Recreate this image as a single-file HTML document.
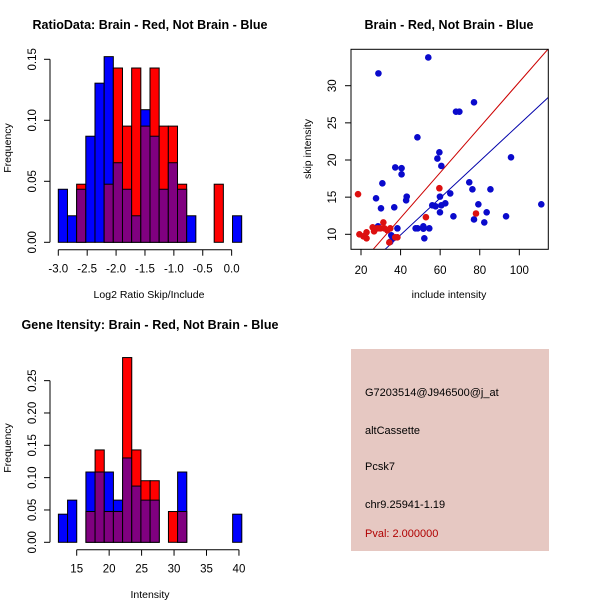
<!DOCTYPE html>
<html><head><meta charset="utf-8"><style>
html,body{margin:0;padding:0;background:#fff}
svg{display:block;font-family:"Liberation Sans",sans-serif}
</style></head><body>
<svg id="s" width="600" height="600" viewBox="0 0 600 600">
<rect x="351" y="349" width="198" height="202" fill="#e6c8c2"/>
<text x="365" y="396" font-size="11">G7203514@J946500@j_at</text>
<text x="365" y="434" font-size="11">altCassette</text>
<text x="365" y="470" font-size="11">Pcsk7</text>
<text x="365" y="508" font-size="11">chr9.25941-1.19</text>
<text x="365" y="537" font-size="11" fill="#b00000">Pval: 2.000000</text>
</svg>
<script>
// Top-left histogram data (counts per bin; 20 bins)
const ratioBlueCounts=[2,1,2,4,6,7,3,2,1,5,4,2,3,2,1,0,0,0,0,1];
const ratioRedCounts=[0,0,1,0,0,1,3,2,3,2,3,2,2,1,0,0,0,1,0,0];
const ratioXTicks=[-3.0,-2.5,-2.0,-1.5,-1.0,-0.5,0.0];
const ratioXTickLabels=["-3.0","-2.5","-2.0","-1.5","-1.0","-0.5","0.0"];
const ratioYTicks=[0,0.05,0.10,0.15];
const ratioYTickLabels=["0.00","0.05","0.10","0.15"];
// Bottom-left histogram data
const geneBlueCounts=[2,3,0,5,5,5,3,6,4,3,3,0,0,5,0,0,0,0,0,2];
const geneRedCounts=[0,0,0,1,3,1,1,6,3,2,2,0,1,1,0,0,0,0,0,0];
const geneXTicks=[15,20,25,30,35,40];
const geneYTicks=[0,0.05,0.10,0.15,0.20,0.25];
const geneYTickLabels=["0.00","0.05","0.10","0.15","0.20","0.25"];
// Scatter data
const blueX=[28.8,54.0,77.1,68.0,69.7,48.5,59.6,58.6,95.8,37.3,40.5,40.5,60.6,30.8,74.7,76.3,85.4,43.1,42.8,27.6,59.9,65.1,30.1,36.8,56.0,57.7,60.6,62.6,79.3,111.1,59.9,83.5,66.7,93.3,77.1,82.3,28.6,38.4,47.6,48.6,51.5,51.5,54.5,52.0,35.3,36.2,34.8];
const blueY=[31.66,33.8,27.76,26.5,26.5,23.05,21.03,20.2,20.36,19.0,18.9,18.07,19.2,16.86,17.0,16.05,16.05,15.07,14.57,14.84,15.07,15.5,13.5,13.63,13.9,13.77,13.9,14.17,14.04,14.04,12.96,12.96,12.42,12.42,12.0,11.6,11.08,10.8,10.8,10.8,11.08,10.76,10.8,9.46,9.87,9.46,9.0];
const redX=[18.5,59.6,78.1,52.8,31.3,19.2,21.2,22.8,22.8,25.9,26.6,29.8,31.8,33.3,34.8,37.3,38.4,28.3,34.3];
const redY=[15.4,16.2,12.8,12.3,11.6,10.0,9.73,10.27,9.46,10.94,10.4,10.8,10.8,10.54,10.8,9.6,9.6,10.8,8.9];
const redSlope=0.305, blueSlope=0.248;
const scXTicks=[20,40,60,80,100];
const scYTicks=[10,15,20,25,30];

const svg=document.getElementById('s');
const NS='http://www.w3.org/2000/svg';
function mk(tag,attrs,parent){const e=document.createElementNS(NS,tag);for(const k in attrs)e.setAttribute(k,attrs[k]);(parent||svg).appendChild(e);return e;}
function txt(s,attrs){const e=mk('text',attrs);e.textContent=s;return e;}

function hist(blue,red,x0,binW,sx,sy,name){
  const nb=blue.reduce((a,b)=>a+b,0), nr=red.reduce((a,b)=>a+b,0);
  for(let i=0;i<blue.length;i++){
    const fb=blue[i]/nb, fr=red[i]/nr;
    const xa=sx(x0+i*binW), xb=sx(x0+(i+1)*binW);
    const hi=Math.max(fb,fr), lo=Math.min(fb,fr);
    if(hi>0){
      const r=mk('rect',{x:xa,y:sy(hi),width:xb-xa,height:sy(0)-sy(hi),fill:fb>=fr?'#0000ff':'#ff0000',stroke:'#000','stroke-width':1});
      
      
    }
    if(lo>0){
      const r=mk('rect',{x:xa,y:sy(lo),width:xb-xa,height:sy(0)-sy(lo),fill:'#800080',stroke:'#000','stroke-width':1});
      
      
    }
  }
}
function axes(xt,xl,yt,yl,sx,sy,xAxisY,yAxisX,name){
  const g=mk('g',{stroke:'#000','stroke-width':1,fill:'none'});
  
  
  mk('line',{x1:sx(xt[0]),x2:sx(xt[xt.length-1]),y1:xAxisY,y2:xAxisY},g);
  xt.forEach((v,i)=>{mk('line',{x1:sx(v),x2:sx(v),y1:xAxisY,y2:xAxisY+6},g);
    const t=txt(xl[i],{x:sx(v),y:xAxisY+23,'font-size':11.5,'text-anchor':'middle'});
    
    });
  mk('line',{y1:sy(yt[0]),y2:sy(yt[yt.length-1]),x1:yAxisX,x2:yAxisX},g);
  yt.forEach((v,i)=>{mk('line',{y1:sy(v),y2:sy(v),x1:yAxisX,x2:yAxisX-6},g);
    const t=txt(yl[i],{x:0,y:0,'font-size':11.5,'text-anchor':'middle',transform:`translate(${yAxisX-14},${sy(v)}) rotate(-90)`});
    
    });
}

// Top-left
{
  const sx=v=>58.3+(v+3)*57.78, sy=v=>242.3-v*1220;
  hist(ratioBlueCounts,ratioRedCounts,-3.0,0.1587,sx,sy,'ratio');
  axes(ratioXTicks,ratioXTickLabels,ratioYTicks,ratioYTickLabels,sx,sy,249.7,50,'ratio');
  let t=txt('RatioData: Brain - Red, Not Brain - Blue',{x:150,y:29,'font-size':12.5,'font-weight':'bold','text-anchor':'middle',textLength:235});
  
  t=txt('Log2 Ratio Skip/Include',{x:149,y:298,'font-size':10.5,'text-anchor':'middle'});
  
  t=txt('Frequency',{x:0,y:0,'font-size':10.5,'text-anchor':'middle',transform:'translate(11,148) rotate(-90)'});
  
}
// Bottom-left
{
  const sx=v=>76.7+(v-15)*6.49, sy=v=>542.3-v*646.6;
  hist(geneBlueCounts,geneRedCounts,12.18,1.413,sx,sy,'gene');
  axes(geneXTicks,geneXTicks.map(String),geneYTicks,geneYTickLabels,sx,sy,549.7,50,'gene');
  let t=txt('Gene Itensity: Brain - Red, Not Brain - Blue',{x:150,y:329,'font-size':12.5,'font-weight':'bold','text-anchor':'middle',textLength:257});
  
  t=txt('Intensity',{x:150,y:598,'font-size':10.5,'text-anchor':'middle'});
  
  t=txt('Frequency',{x:0,y:0,'font-size':10.5,'text-anchor':'middle',transform:'translate(11,448) rotate(-90)'});
  
}
// Scatter
{
  const sx=v=>361+(v-20)*1.979, sy=v=>234.3-(v-10)*7.43;
  const xmin=14.95,xmax=114.65,ymin=7.98,ymax=34.9;
  const clip=mk('clipPath',{id:'pc'});mk('rect',{x:351,y:49.3,width:197.3,height:200},clip);
  [[redSlope,'#cc0000','red-fit-line'],[blueSlope,'#0000aa','blue-fit-line']].forEach(([m,c,n])=>{
    const l=mk('line',{x1:sx(ymin/m),y1:sy(ymin),x2:sx(xmax),y2:sy(m*xmax),stroke:c,'stroke-width':1,'clip-path':'url(#pc)'});
    
  });
  blueX.forEach((x,i)=>{const c=mk('circle',{cx:sx(x),cy:sy(blueY[i]),r:3.3,fill:'#0a0acc'});
    });
  redX.forEach((x,i)=>{const c=mk('circle',{cx:sx(x),cy:sy(redY[i]),r:3.3,fill:'#dd1010'});
    });
  const b=mk('rect',{x:351,y:49.3,width:197.3,height:200,fill:'none',stroke:'#000','stroke-width':1});
  
  const g=mk('g',{stroke:'#000'});
  
  scXTicks.forEach(v=>{mk('line',{x1:sx(v),x2:sx(v),y1:249.3,y2:255.3},g);
    const t=txt(String(v),{x:sx(v),y:274,'font-size':11.5,'text-anchor':'middle'});
    });
  scYTicks.forEach(v=>{mk('line',{x1:351,x2:345,y1:sy(v),y2:sy(v)},g);
    const t=txt(String(v),{x:0,y:0,'font-size':11.5,'text-anchor':'middle',transform:`translate(336,${sy(v)}) rotate(-90)`});
    });
  let t=txt('Brain - Red, Not Brain - Blue',{x:449,y:29,'font-size':12.5,'font-weight':'bold','text-anchor':'middle',textLength:169});
  
  t=txt('include intensity',{x:449,y:298,'font-size':10.5,'text-anchor':'middle'});
  
  t=txt('skip intensity',{x:0,y:0,'font-size':10.5,'text-anchor':'middle',transform:'translate(311,149) rotate(-90)'});
  
}
</script>
</body></html>
